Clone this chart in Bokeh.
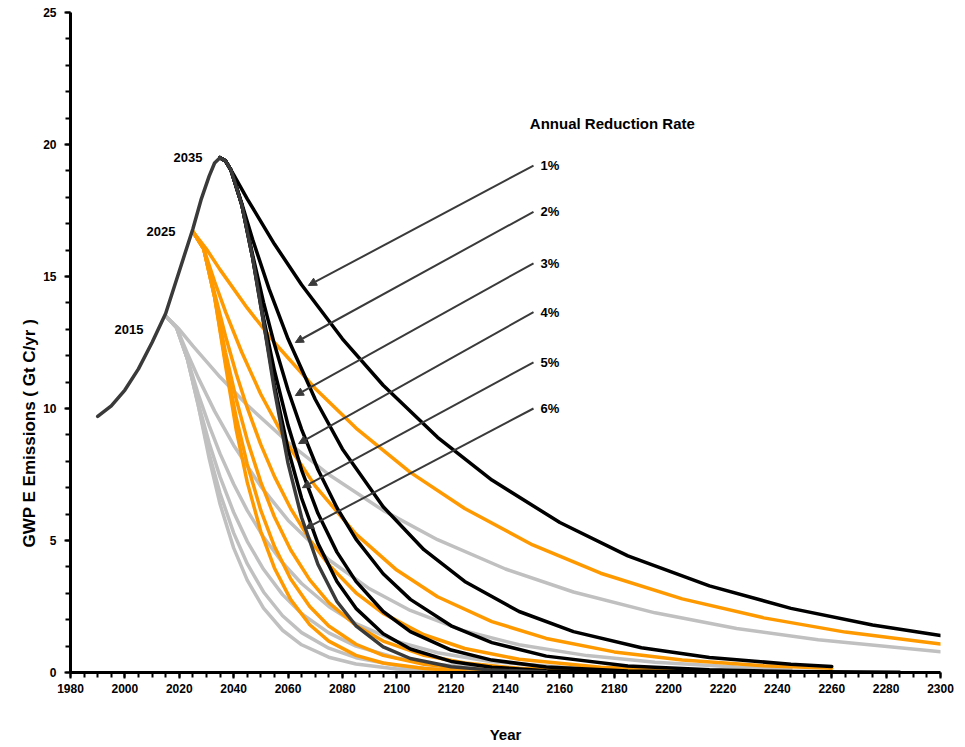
from bokeh.plotting import figure
from bokeh.models import Label, Arrow, NormalHead, SingleIntervalTicker, Range1d, Title
from bokeh.embed import file_html
from bokeh.resources import INLINE

# ---------------- data ----------------
hist_years = [1990, 1995, 2000, 2005, 2010, 2015, 2020, 2025, 2028, 2031, 2033, 2035]
hist_vals = [9.7, 10.1, 10.7, 11.5, 12.5, 13.6, 15.2, 16.8, 17.9, 18.8, 19.3, 19.5]

# peak 2015 (grey)
g1_years = [2015, 2020, 2025, 2035, 2045, 2060, 2075, 2095, 2115, 2140, 2165, 2195, 2225, 2255, 2300]
g1_vals = [13.5, 13.00, 12.37, 11.19, 10.13, 8.72, 7.50, 6.14, 5.03, 3.92, 3.05, 2.26, 1.67, 1.24, 0.79]
g2_years = [2015, 2019, 2023, 2027, 2033, 2040, 2050, 2060, 2075, 2090, 2105, 2125, 2145, 2170, 2195, 2225, 2245]
g2_vals = [13.5, 13.07, 12.09, 11.16, 9.90, 8.61, 7.05, 5.77, 4.27, 3.17, 2.35, 1.57, 1.05, 0.64, 0.39, 0.21, 0.14]
g3_years = [2015, 2019, 2023, 2027, 2031, 2035, 2040, 2045, 2051, 2058, 2065, 2075, 2085, 2100, 2115, 2135, 2165, 2195]
g3_vals = [13.5, 13.07, 11.88, 10.54, 9.35, 8.29, 7.14, 6.14, 5.13, 4.16, 3.37, 2.50, 1.85, 1.18, 0.75, 0.41, 0.17, 0.07]
g4_years = [2015, 2019, 2023, 2027, 2031, 2035, 2040, 2045, 2051, 2058, 2065, 2075, 2085, 2100, 2115, 2135, 2165]
g4_vals = [13.5, 13.07, 11.88, 10.20, 8.69, 7.41, 6.07, 4.97, 3.91, 2.95, 2.23, 1.50, 1.00, 0.55, 0.30, 0.14, 0.04]
g5_years = [2015, 2019, 2023, 2027, 2031, 2035, 2040, 2045, 2051, 2058, 2065, 2075, 2085, 2100, 2115, 2135]
g5_vals = [13.5, 13.07, 11.88, 10.12, 8.29, 6.79, 5.29, 4.12, 3.05, 2.15, 1.51, 0.92, 0.56, 0.26, 0.12, 0.05]
g6_years = [2015, 2019, 2023, 2027, 2031, 2035, 2040, 2045, 2051, 2058, 2065, 2075, 2085, 2100, 2115]
g6_vals = [13.5, 13.07, 11.88, 10.12, 8.11, 6.38, 4.72, 3.50, 2.44, 1.60, 1.05, 0.58, 0.32, 0.13, 0.05]

# peak 2025 (orange)
o1_years = [2025, 2030, 2035, 2045, 2055, 2070, 2085, 2105, 2125, 2150, 2175, 2205, 2235, 2265, 2300]
o1_vals = [16.7, 16.04, 15.26, 13.81, 12.50, 10.76, 9.26, 7.58, 6.21, 4.83, 3.76, 2.79, 2.07, 1.53, 1.08]
o2_years = [2025, 2029, 2033, 2037, 2043, 2050, 2060, 2070, 2085, 2100, 2115, 2135, 2155, 2180, 2205, 2235, 2260]
o2_vals = [16.7, 16.05, 14.81, 13.67, 12.13, 10.54, 8.63, 7.07, 5.24, 3.88, 2.87, 1.93, 1.29, 0.78, 0.47, 0.26, 0.16]
o3_years = [2025, 2029, 2033, 2037, 2041, 2045, 2050, 2055, 2061, 2068, 2075, 2085, 2095, 2110, 2125, 2145, 2175, 2205, 2235]
o3_vals = [16.7, 16.05, 14.37, 12.75, 11.31, 10.03, 8.63, 7.43, 6.21, 5.03, 4.08, 3.02, 2.24, 1.43, 0.91, 0.50, 0.20, 0.08, 0.03]
o4_years = [2025, 2029, 2033, 2037, 2041, 2045, 2050, 2055, 2061, 2068, 2075, 2085, 2095, 2110, 2125, 2145, 2175]
o4_vals = [16.7, 16.05, 14.23, 12.13, 10.33, 8.81, 7.21, 5.90, 4.64, 3.51, 2.65, 1.78, 1.19, 0.65, 0.36, 0.16, 0.05]
o5_years = [2025, 2029, 2033, 2037, 2041, 2045, 2050, 2055, 2061, 2068, 2075, 2085, 2095, 2110, 2125, 2145]
o5_vals = [16.7, 16.05, 14.23, 11.77, 9.63, 7.89, 6.14, 4.78, 3.54, 2.50, 1.76, 1.07, 0.65, 0.31, 0.14, 0.05]
o6_years = [2025, 2029, 2033, 2037, 2041, 2045, 2050, 2055, 2061, 2068, 2075, 2085, 2095, 2110, 2125]
o6_vals = [16.7, 16.05, 14.23, 11.65, 9.17, 7.21, 5.34, 3.96, 2.76, 1.81, 1.19, 0.65, 0.36, 0.15, 0.06]

# peak 2035 (black)
k1_years = [2035, 2037, 2040, 2045, 2055, 2065, 2080, 2095, 2115, 2135, 2160, 2185, 2215, 2245, 2275, 2300]
k1_vals = [19.5, 19.38, 18.86, 17.94, 16.23, 14.69, 12.64, 10.88, 8.91, 7.29, 5.68, 4.42, 3.28, 2.43, 1.80, 1.40]
k2_years = [2035, 2037, 2039, 2043, 2047, 2053, 2060, 2070, 2080, 2095, 2110, 2125, 2145, 2165, 2190, 2215, 2245, 2260]
k2_vals = [19.5, 19.38, 19.04, 17.76, 16.40, 14.54, 12.64, 10.35, 8.47, 6.28, 4.65, 3.45, 2.31, 1.55, 0.94, 0.57, 0.31, 0.23]
k3_years = [2035, 2037, 2039, 2043, 2047, 2051, 2055, 2060, 2065, 2071, 2078, 2085, 2095, 2105, 2120, 2135, 2155, 2185, 2215, 2245, 2285]
k3_vals = [19.5, 19.38, 19.04, 17.72, 15.81, 14.02, 12.43, 10.70, 9.21, 7.69, 6.24, 5.05, 3.74, 2.77, 1.77, 1.13, 0.62, 0.25, 0.10, 0.04, 0.01]
k4_years = [2035, 2037, 2039, 2043, 2047, 2051, 2055, 2060, 2065, 2071, 2078, 2085, 2095, 2105, 2120, 2135, 2155, 2185, 2215]
k4_vals = [19.5, 19.38, 19.04, 17.72, 15.71, 13.42, 11.44, 9.37, 7.67, 6.03, 4.56, 3.45, 2.31, 1.55, 0.85, 0.47, 0.21, 0.06, 0.02]
k5_years = [2035, 2037, 2039, 2043, 2047, 2051, 2055, 2060, 2065, 2071, 2078, 2085, 2095, 2105, 2120, 2135, 2155, 2185]
k5_vals = [19.5, 19.38, 19.04, 17.72, 15.71, 13.28, 10.88, 8.47, 6.60, 4.89, 3.45, 2.43, 1.47, 0.89, 0.42, 0.20, 0.07, 0.02]
k6_years = [2035, 2037, 2039, 2043, 2047, 2051, 2055, 2060, 2065, 2071, 2078, 2085, 2095, 2105, 2120, 2135, 2155]
k6_vals = [19.5, 19.38, 19.04, 17.72, 15.71, 13.28, 10.70, 7.93, 5.87, 4.10, 2.69, 1.77, 0.97, 0.53, 0.22, 0.09, 0.03]

peak_labels = ["2015", "2025", "2035"]
rate_labels = ["1%", "2%", "3%", "4%", "5%", "6%"]
legend_title = "Annual Reduction Rate"
x_title = "Year"
y_title = "GWP E Emissions ( Gt C/yr )"

# ---------------- styling / annotation positions ----------------
GREY = "#c0c0c0"
ORANGE = "#ff9900"
BLACK = "#000000"
DARK = "#3a3a3a"
FONT = "Liberation Sans"

peak_label_pos = [(2006.8, 13.0), (2018.6, 16.7), (2028.5, 19.5)]
rate_label_x = 2152.9
rate_label_y = [19.2, 17.45, 15.5, 13.65, 11.75, 10.0]
arrow_tail_x = 2150.3
arrow_head = [(2067.5, 14.66), (2062.7, 12.5), (2062.7, 10.49),
              (2063.9, 8.67), (2065.3, 7.0), (2066.4, 5.45)]

p = figure(width=955, height=745, x_range=Range1d(1980, 2300), y_range=Range1d(0, 25),
           output_backend="svg", toolbar_location=None,
           min_border_left=70, min_border_right=15, min_border_top=12, min_border_bottom=73)
p.outline_line_color = None
p.xgrid.visible = False
p.ygrid.visible = False
p.background_fill_color = "white"
p.border_fill_color = "white"

series = [
    (g1_years, g1_vals, GREY), (g2_years, g2_vals, GREY), (g3_years, g3_vals, GREY),
    (g4_years, g4_vals, GREY), (g5_years, g5_vals, GREY), (g6_years, g6_vals, GREY),
    (o1_years, o1_vals, ORANGE), (o2_years, o2_vals, ORANGE), (o3_years, o3_vals, ORANGE),
    (o4_years, o4_vals, ORANGE), (o5_years, o5_vals, ORANGE), (o6_years, o6_vals, ORANGE),
    (k1_years, k1_vals, BLACK), (k2_years, k2_vals, BLACK), (k3_years, k3_vals, BLACK),
    (k4_years, k4_vals, BLACK), (k5_years, k5_vals, BLACK), (k6_years, k6_vals, DARK),
    (hist_years, hist_vals, DARK),
]
for xs, ys, col in series:
    p.line(xs, ys, line_color=col, line_width=3.5, line_join="round", line_cap="round")

# axes
p.xaxis.ticker = SingleIntervalTicker(interval=20, num_minor_ticks=4)
p.yaxis.ticker = SingleIntervalTicker(interval=5, num_minor_ticks=5)
for ax in (p.xaxis, p.yaxis):
    ax.axis_line_width = 3
    ax.axis_line_color = "black"
    ax.major_tick_line_width = 2
    ax.minor_tick_line_width = 2
    ax.major_tick_line_color = "black"
    ax.minor_tick_line_color = "black"
    ax.major_tick_out = 6
    ax.minor_tick_out = 5
    ax.major_tick_in = 0
    ax.minor_tick_in = 0
    ax.major_label_text_font = FONT
    ax.major_label_text_font_style = "bold"
    ax.major_label_text_font_size = "12px"
    ax.major_label_text_color = "black"
p.xaxis.major_label_standoff = 5
p.yaxis.major_label_standoff = 8

p.xaxis.axis_label = x_title
p.xaxis.axis_label_text_font = FONT
p.xaxis.axis_label_text_font_style = "bold"
p.xaxis.axis_label_text_font_size = "15px"
p.xaxis.axis_label_text_color = "black"
p.xaxis.axis_label_standoff = 30

p.add_layout(Title(text=y_title, align="left", offset=125, standoff=3,
                   text_font=FONT, text_font_style="bold", text_font_size="17px",
                   text_color="black"), "left")

# peak labels
for txt, (lx, ly) in zip(peak_labels, peak_label_pos):
    p.add_layout(Label(x=lx, y=ly, text=txt, text_align="right", text_baseline="middle",
                       text_font=FONT, text_font_style="bold", text_font_size="13px",
                       text_color="black"))

# legend title and arrows
p.add_layout(Label(x=2179.3, y=20.78, text=legend_title, text_align="center", text_baseline="middle",
                   text_font=FONT, text_font_style="bold", text_font_size="15px", text_color="black"))
for txt, ty, (hx, hy) in zip(rate_labels, rate_label_y, arrow_head):
    p.add_layout(Label(x=rate_label_x, y=ty, text=txt, text_align="left", text_baseline="middle",
                       text_font=FONT, text_font_style="bold", text_font_size="13px",
                       text_color="black"))
    p.add_layout(Arrow(end=NormalHead(size=8, fill_color=DARK, line_color=DARK, line_width=1),
                       x_start=arrow_tail_x, y_start=ty, x_end=hx, y_end=hy,
                       line_color=DARK, line_width=2))

open("out.html", "w").write(file_html(p, INLINE))
